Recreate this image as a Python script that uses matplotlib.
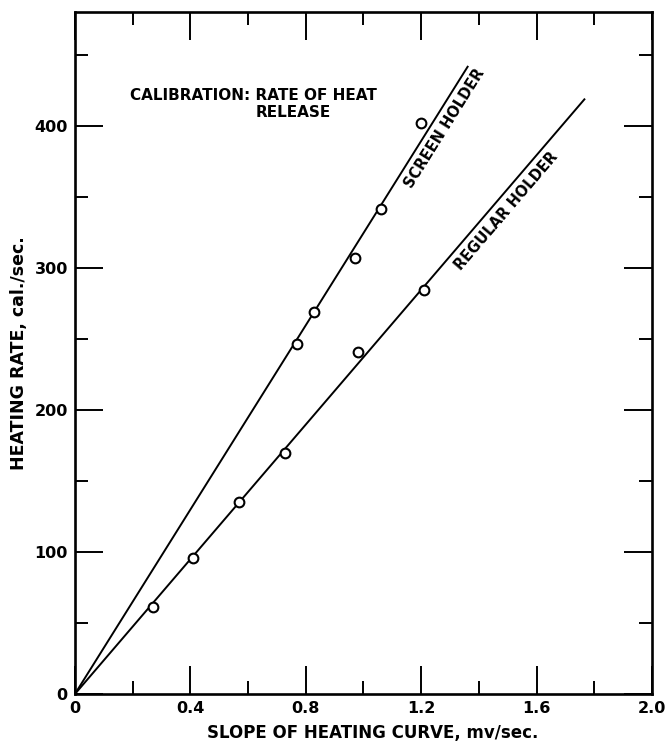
import numpy as np
import matplotlib
matplotlib.use("Agg")
import matplotlib.pyplot as plt
from matplotlib.ticker import MultipleLocator, FixedFormatter, FixedLocator

# measured points
screen_x = [0.77, 0.83, 0.97, 1.06, 1.20]
screen_y = [246, 269, 307, 341, 402]
regular_x = [0.27, 0.41, 0.57, 0.73, 0.98, 1.21]
regular_y = [61, 96, 135, 170, 241, 284]

# fitted calibration lines
screen_line_x = [0.0, 1.363]
screen_line_y = [0.0, 442]
regular_line_x = [0.0, 1.768]
regular_line_y = [0.0, 419]

x_ticks = [0, 0.4, 0.8, 1.2, 1.6, 2.0]
x_tick_labels = ["0", "0.4", "0.8", "1.2", "1.6", "2.0"]
y_ticks = [0, 100, 200, 300, 400]
y_tick_labels = ["0", "100", "200", "300", "400"]

plt.rcParams["font.family"] = ["DejaVu Sans"]

fig = plt.figure(figsize=(6.68, 7.44), dpi=100)
ax = fig.add_axes([0.112, 0.067, 0.864, 0.917])

ax.plot(screen_line_x, screen_line_y, color="black", lw=1.4, solid_capstyle="butt")
ax.plot(regular_line_x, regular_line_y, color="black", lw=1.4, solid_capstyle="butt")
ax.plot(screen_x, screen_y, "o", ms=7, mfc="white", mec="black", mew=1.5)
ax.plot(regular_x, regular_y, "o", ms=7, mfc="white", mec="black", mew=1.5)

ax.set_xlim(0, 2.0)
ax.set_ylim(0, 480)

ax.xaxis.set_major_locator(FixedLocator(x_ticks))
ax.xaxis.set_major_formatter(FixedFormatter(x_tick_labels))
ax.xaxis.set_minor_locator(MultipleLocator(0.2))
ax.yaxis.set_major_locator(FixedLocator(y_ticks))
ax.yaxis.set_major_formatter(FixedFormatter(y_tick_labels))
ax.yaxis.set_minor_locator(MultipleLocator(50))

ax.tick_params(which="both", direction="in", top=True, right=True, width=1.4,
               labelsize=11.5)
ax.tick_params(which="major", length=20, pad=5)
ax.tick_params(which="minor", length=9.5)
for lab in ax.get_xticklabels() + ax.get_yticklabels():
    lab.set_fontweight("bold")

for s in ax.spines.values():
    s.set_linewidth(1.9)

ax.set_xlabel("SLOPE OF HEATING CURVE, mv/sec.", fontsize=12, fontweight="bold",
              labelpad=6)
ax.xaxis.label.set_x(0.516)
ax.set_ylabel("HEATING RATE, cal./sec.", fontsize=12.5, fontweight="bold", labelpad=5)

ax.text(0.19, 421, "CALIBRATION: RATE OF HEAT", fontsize=11, fontweight="bold",
        ha="left", va="center")
ax.text(0.625, 409, "RELEASE", fontsize=11, fontweight="bold", ha="left", va="center")

# labels along the lines
s_slope = screen_line_y[1] / screen_line_x[1]
r_slope = regular_line_y[1] / regular_line_x[1]
x0 = 1.11
ax.text(x0 + 0.022, s_slope * x0, "SCREEN HOLDER", fontsize=10.5, fontweight="bold",
        rotation=np.degrees(np.arctan(s_slope)), transform_rotates_text=True,
        rotation_mode="anchor", ha="left", va="top")
x1 = 1.28
ax.text(x1 + 0.025, r_slope * x1, "REGULAR HOLDER", fontsize=10.5, fontweight="bold",
        rotation=np.degrees(np.arctan(r_slope)), transform_rotates_text=True,
        rotation_mode="anchor", ha="left", va="top")

fig.savefig("out.png", dpi=100)
